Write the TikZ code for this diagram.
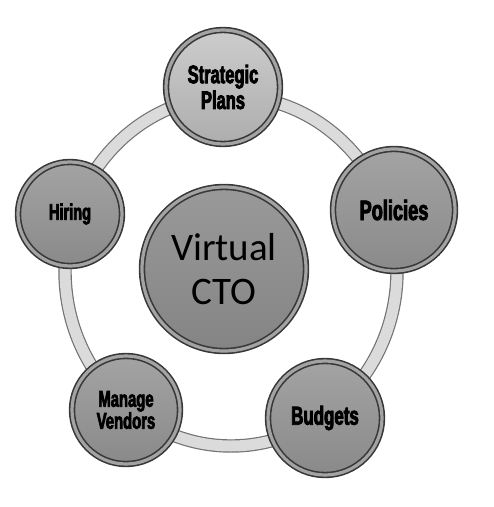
\documentclass[tikz,border=0pt]{standalone}
\usepackage{fontspec}
\setmainfont{Carlito}
\newfontfamily\labelfont[FakeStretch=0.65,FakeBold=3]{Liberation Sans}

\begin{document}
\begin{tikzpicture}[x=0.5pt,y=-0.5pt,
  bubble/.style={circle,inner sep=0pt,align=center,
    draw=black!78,line width=0.8pt,double=black!36,double distance=1.6pt,
    top color=black!36,bottom color=black!46,
    font=\labelfont\bfseries\fontsize{12.7}{10.5}\selectfont},
  ring/.style={draw=black!55,line width=0.6pt,double=black!14,double distance=5.5pt}]

\path[fill=white] (0,0) rectangle (493,507);
\coordinate (o) at (231,271);

\draw[ring] (o) ellipse [x radius=166,y radius=175];

\node[bubble,minimum size=82pt,top color=black!40,bottom color=black!48,
  font=\fontsize{19.5}{22}\selectfont] (cto) at (224,269) {Virtual\\CTO};

\node[bubble,minimum size=57pt,top color=black!20,bottom color=black!32] (plans) at (223,87) {Strategic\\Plans};
\node[bubble,minimum size=61pt,font=\labelfont\bfseries\fontsize{14}{14}\selectfont] (policies) at (394,210) {Policies};
\node[bubble,minimum size=57pt,font=\labelfont\bfseries\fontsize{13}{13}\selectfont] (budgets) at (325,418) {Budgets};
\node[bubble,minimum size=54pt,font=\labelfont\bfseries\fontsize{11.4}{11}\selectfont] (vendors) at (126,410) {Manage\\Vendors};
\node[bubble,minimum size=52pt,font=\labelfont\bfseries\fontsize{11.2}{11}\selectfont] (hiring) at (70,214) {Hiring};

\end{tikzpicture}
\end{document}
